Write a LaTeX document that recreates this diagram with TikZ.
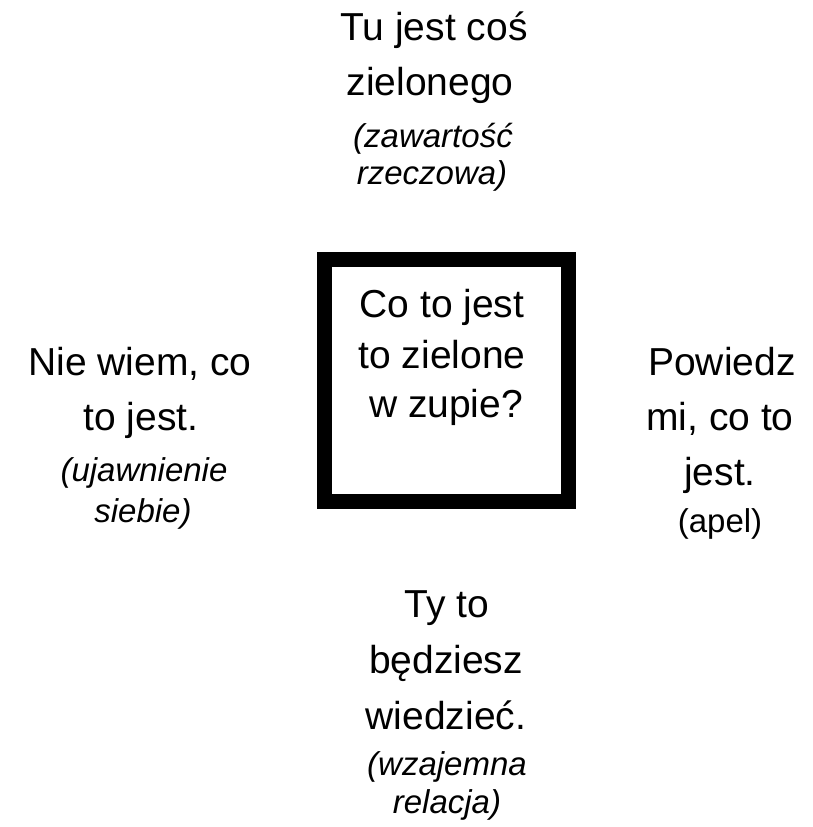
\documentclass[tikz,border=0pt]{standalone}
\usepackage{fontspec}
\setmainfont{Liberation Sans}
\begin{document}
\begin{tikzpicture}[x=1pt,y=-1pt,
  mainline/.style={anchor=base,inner sep=0pt,font=\fontsize{39}{45}\selectfont},
  noteline/.style={anchor=base,inner sep=0pt,font=\fontsize{33}{38}\selectfont\itshape},
  uprightnote/.style={anchor=base,inner sep=0pt,font=\fontsize{33}{38}\selectfont},
  framebox/.style={draw=black,line width=15pt,fill=white,minimum width=244pt,minimum height=242pt,inner sep=0pt}]
\useasboundingbox (0,0) rectangle (813,827);

% central question
\node[framebox] (q) at (446.5,380) {};
\node[mainline] (q1) at (442,317) {Co to jest};
\node[mainline] (q2) at (442,368) {to zielone};
\node[mainline] (q3) at (446,417) {w zupie?};

% top: factual content
\node[mainline] (t1) at (434,40) {Tu jest coś};
\node[mainline] (t2) at (430,95) {zielonego};
\node[noteline] (t3) at (433,147) {(zawartość};
\node[noteline] (t4) at (432,184) {rzeczowa)};

% left: self-revelation
\node[mainline] (l1) at (140,375) {Nie wiem, co};
\node[mainline] (l2) at (141,430) {to jest.};
\node[noteline] (l3) at (144,481) {(ujawnienie};
\node[noteline] (l4) at (143,522) {siebie)};

% right: appeal
\node[mainline] (r1) at (722,375) {Powiedz};
\node[mainline] (r2) at (720,430) {mi, co to};
\node[mainline] (r3) at (720,485) {jest.};
\node[uprightnote] (r4) at (720,532) {(apel)};

% bottom: relationship
\node[mainline] (b1) at (447,617) {Ty to};
\node[mainline] (b2) at (446,673) {będziesz};
\node[mainline] (b3) at (446,729) {wiedzieć.};
\node[noteline] (b4) at (447,775) {(wzajemna};
\node[noteline] (b5) at (447,813) {relacja)};
\end{tikzpicture}
\end{document}
